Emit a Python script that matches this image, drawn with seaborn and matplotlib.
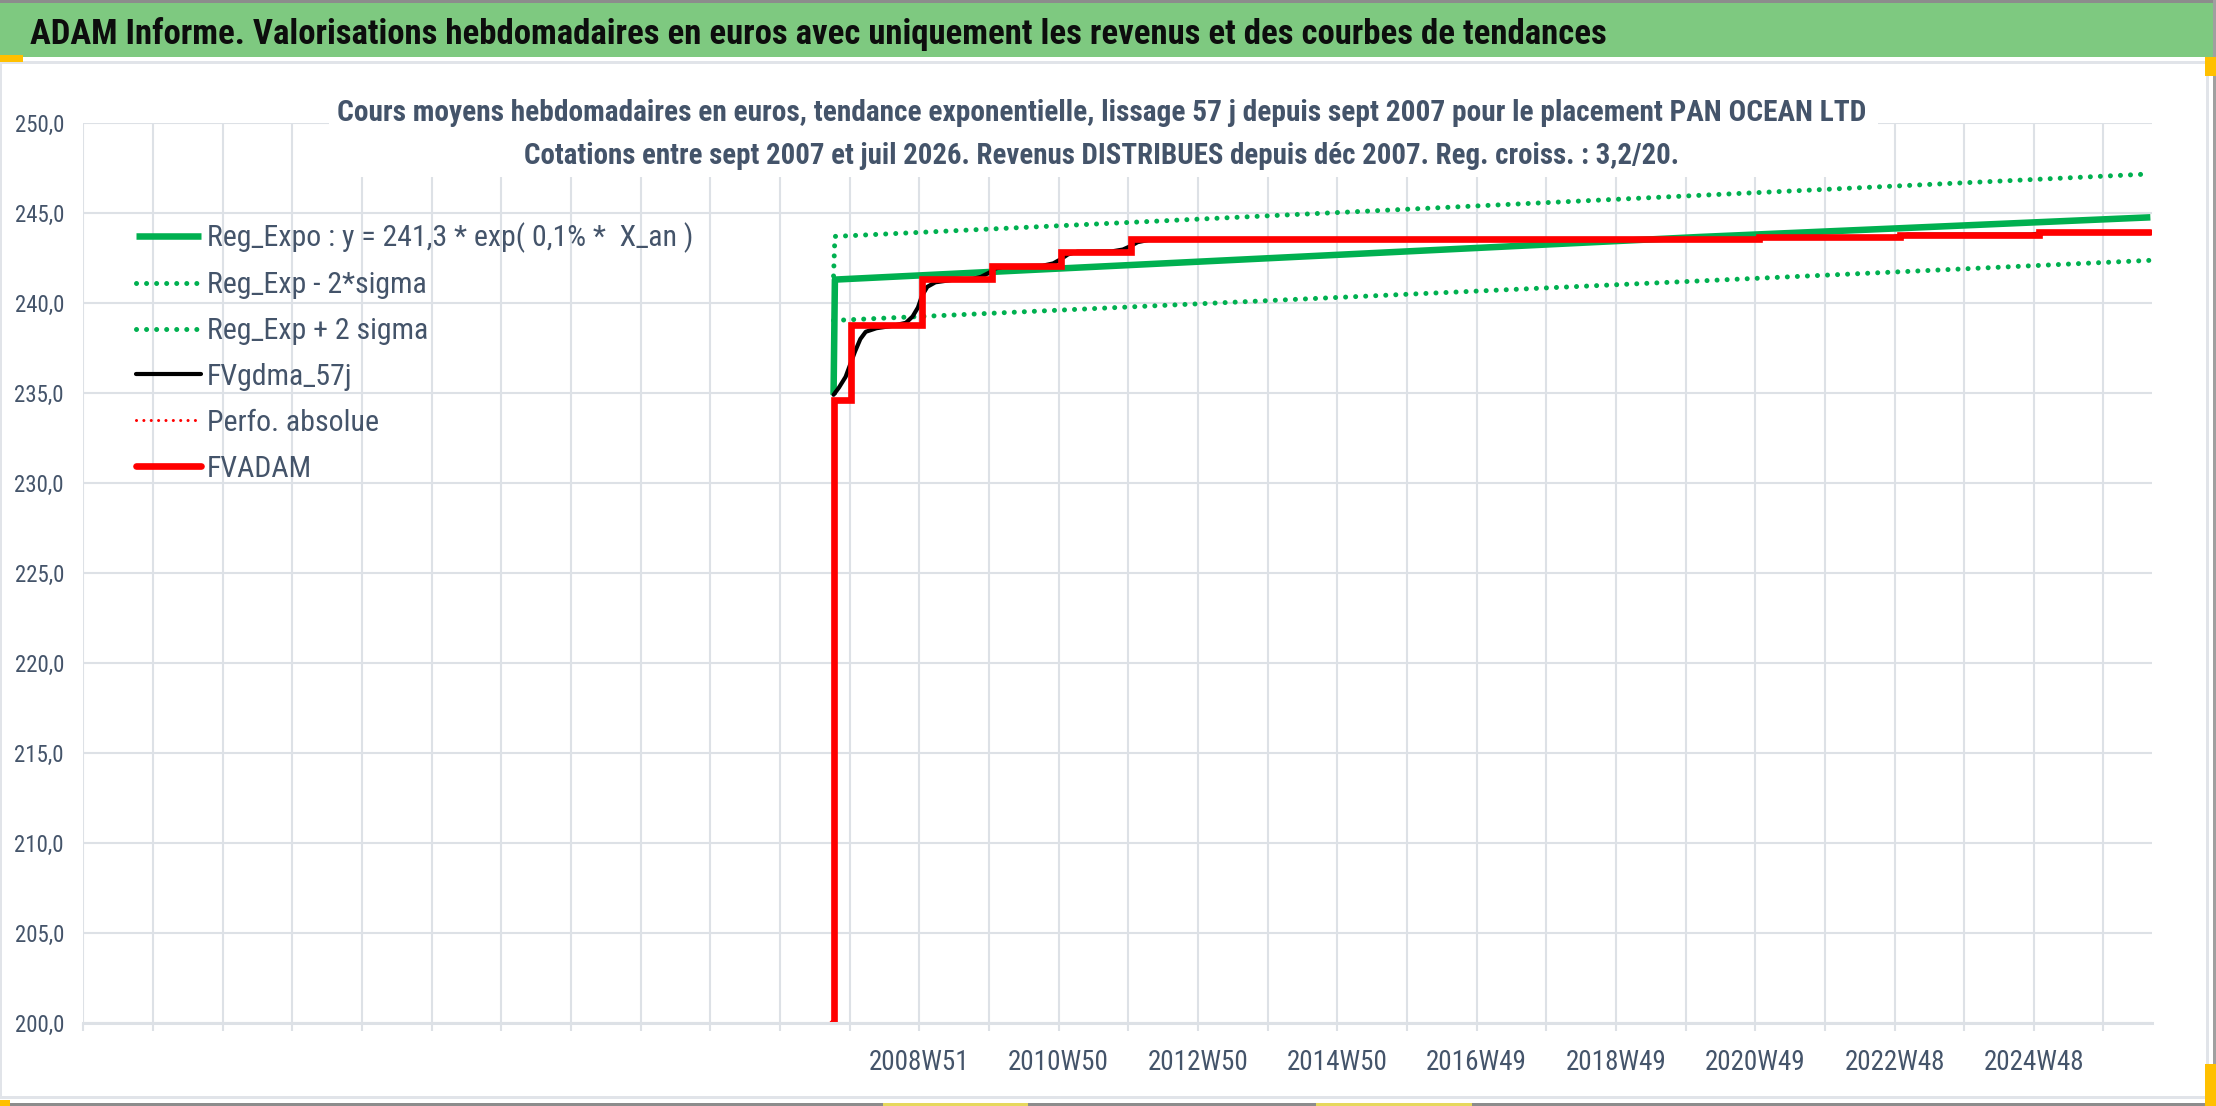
import matplotlib
matplotlib.use("Agg")
import matplotlib.pyplot as plt
import matplotlib.font_manager as fm
from matplotlib.patches import Rectangle
from matplotlib.lines import Line2D
from matplotlib.ticker import FixedLocator, FuncFormatter
import numpy as np
import pandas as pd
import seaborn as sns

# ---------------- data ----------------
axis_start = "1996-12-30"          # first weekly category of the axis
n_categories = 1544                # weekly categories on the axis

tick_labels = ["2008W51", "2010W50", "2012W50", "2014W50", "2016W49",
               "2018W49", "2020W49", "2022W48", "2024W48"]

# weeks are category numbers counted from axis_start
reg_week = [560, 561, 1207, 1543]
reg_value = [234.9, 241.3, 243.67, 244.76]

up_week = [560, 561, 1543]
up_value = [241.5, 243.7, 247.17]

lo_week = [560, 1543]
lo_value = [239.03, 242.37]

black_week = [560, 564, 569, 573, 576, 580, 584, 592, 604, 614,
              619, 623, 626, 630, 636, 650, 664, 670, 676, 681,
              688, 716, 724, 730, 735, 742, 768, 776, 782, 787,
              795, 1245, 1251, 1257, 1350, 1356, 1362, 1454, 1460, 1466,
              1543]
black_value = [234.9, 235.3, 235.9, 236.7, 237.3, 238.0, 238.4, 238.6, 238.73, 238.9,
               239.25, 239.75, 240.4, 240.9, 241.15, 241.3, 241.35, 241.45, 241.68, 241.92,
               242.04, 242.07, 242.2, 242.45, 242.7, 242.85, 242.87, 242.97, 243.17, 243.38,
               243.5, 243.53, 243.59, 243.65, 243.65, 243.72, 243.8, 243.8, 243.86, 243.92,
               243.92]

red_week = [559, 560, 573, 626, 678, 730, 782, 1251, 1356, 1460, 1543]
red_value = [200.0, 234.6, 238.77, 241.35, 242.07, 242.85, 243.53, 243.65, 243.8, 243.92, 243.92]

legend_labels = ["Reg_Expo : y = 241,3 * exp( 0,1% *  X_an )", "Reg_Exp - 2*sigma",
                 "Reg_Exp + 2 sigma", "FVgdma_57j", "Perfo. absolue", "FVADAM"]

band_title = ("ADAM Informe. Valorisations hebdomadaires en euros avec uniquement "
              "les revenus et des courbes de tendances")
chart_title_1 = ("Cours moyens hebdomadaires en euros, tendance exponentielle, lissage 57 j "
                 "depuis sept 2007 pour le placement PAN OCEAN LTD")
chart_title_2 = ("Cotations entre sept 2007 et juil 2026. Revenus DISTRIBUES depuis déc 2007. "
                 "Reg. croiss. : 3,2/20.")

# ---------------- style ----------------
sns.set_theme(style="white")
names = {f.name for f in fm.fontManager.ttflist}
base = next((n for n in ["Liberation Sans Narrow", "Roboto Condensed", "Liberation Sans"]
             if n in names), "DejaVu Sans")
k = 1.0 if ("Narrow" in base or "Condensed" in base) else 0.82
plt.rcParams["font.family"] = [base, "DejaVu Sans"]

W, H = 2216, 1106
TXT = "#44546A"
GRID = "#DDE1E6"
GREEN = "#00B050"

fig = plt.figure(figsize=(W / 100, H / 100), dpi=100)
fig.patch.set_facecolor("white")

def frect(x0, y0, x1, y1, color, z=0):
    # pixel box (top-left origin) -> figure rectangle
    fig.patches.append(Rectangle((x0 / W, 1 - y1 / H), (x1 - x0) / W, (y1 - y0) / H,
                                 transform=fig.transFigure, facecolor=color,
                                 edgecolor="none", zorder=z))

# header band and frame
frect(0, 0, W, 3, "#8C8C8C")
frect(0, 3, W, 57, "#7EC980")
frect(0, 61, W, 64, "#E1E4E9")
frect(0, 1096, W, 1099, "#E1E4E9")
frect(0, 1103, W, 1106, "#8C8C8C")
frect(2206, 62, 2209, 1099, "#E1E4E9")
frect(2213, 0, 2216, 1106, "#A0A0A0")
frect(0, 62, 2, 1099, "#E1E4E9")
# selection handles
frect(0, 55, 23, 62, "#FFC000")
frect(2205, 57, 2216, 76, "#FFC000")
frect(2205, 1064, 2216, 1106, "#FFC000")
frect(0, 1100, 10, 1106, "#FFC000")
frect(883, 1103, 1028, 1106, "#E6D85C")
frect(1316, 1103, 1472, 1106, "#E6D85C")

fig.text(30 / W, 1 - 34 / H, band_title, fontsize=25 * k, fontweight="bold",
         color="#0D0D0D", ha="left", va="center")

# ---------------- axes ----------------
left, right, top, bottom = 83.4, 2151.7, 123, 1023
ax = fig.add_axes([left / W, 1 - bottom / H, (right - left) / W, (bottom - top) / H])
ax.set_facecolor("none")
ax.set_axisbelow(True)

DOT = (0, (0.01, 2.0))
sns.lineplot(x=reg_week, y=reg_value, ax=ax, color=GREEN, linewidth=4.7,
             estimator=None, sort=False, label=legend_labels[0], solid_capstyle="butt")
sns.lineplot(x=up_week, y=up_value, ax=ax, color=GREEN, linewidth=3.6,
             linestyle=DOT, dash_capstyle="round",
             estimator=None, sort=False, label=legend_labels[1])
sns.lineplot(x=lo_week, y=lo_value, ax=ax, color=GREEN, linewidth=3.6,
             linestyle=DOT, dash_capstyle="round",
             estimator=None, sort=False, label=legend_labels[2])
sns.lineplot(x=black_week, y=black_value, ax=ax, color="black", linewidth=3.0,
             estimator=None, sort=False, label=legend_labels[3])
sns.lineplot(x=red_week, y=red_value, ax=ax, color="#FF0000", linewidth=4.8,
             drawstyle="steps-post", estimator=None, sort=False, label=legend_labels[5],
             solid_joinstyle="miter")

# category axis from weekly ISO labels
weeks = pd.date_range(axis_start, periods=n_categories + 1, freq="7D")
iso = weeks.isocalendar()
week_labels = [f"{y}W{w:02d}" for y, w in zip(iso.year, iso.week)]
pos = {lab: i for i, lab in enumerate(week_labels)}
ticks = [pos[t] for t in tick_labels]

ax.set_xlim(0, n_categories)
ax.set_ylim(200, 250)
ax.xaxis.set_major_locator(FixedLocator(ticks))
ax.set_xticklabels(tick_labels)
ax.xaxis.set_minor_locator(FixedLocator(np.arange(0, n_categories, 52)))
ax.yaxis.set_major_locator(FixedLocator(np.arange(200, 251, 5)))
ax.yaxis.set_major_formatter(FuncFormatter(lambda v, p: f"{v:.1f}".replace(".", ",")))

ax.grid(True, which="both", axis="x", color=GRID, linewidth=1.5)
ax.grid(True, which="major", axis="y", color=GRID, linewidth=1.5)
for s in ["left", "right", "top"]:
    ax.spines[s].set_visible(False)
ax.spines["bottom"].set_color(GRID)
ax.spines["bottom"].set_linewidth(2.2)
ax.tick_params(axis="x", which="both", length=6, width=1.5, color=GRID, bottom=True,
               direction="out", pad=13, labelsize=19.5 * k, labelcolor=TXT)
ax.tick_params(axis="y", which="both", length=0, pad=14, labelsize=16.5 * k, labelcolor=TXT)
ax.set_xlabel("")
ax.set_ylabel("")

# white title box hiding the grid under the chart title
ax.add_patch(Rectangle((329 / W, 1 - 177 / H), (1878 - 329) / W, 92 / H,
                       transform=fig.transFigure, facecolor="white", edgecolor="none",
                       zorder=1, clip_on=False))
fig.text(1102 / W, 1 - 113 / H, chart_title_1, fontsize=21.2 * k, fontweight="bold",
         color=TXT, ha="center", va="center")
fig.text(1102 / W, 1 - 156 / H, chart_title_2, fontsize=20.8 * k, fontweight="bold",
         color=TXT, ha="center", va="center")

# legend
handles, labels = ax.get_legend_handles_labels()
hmap = dict(zip(labels, handles))
perfo = Line2D([], [], color="#FF0000", linewidth=2.2, linestyle=(0, (0.01, 2.4)),
               dash_capstyle="round")
hmap[legend_labels[4]] = perfo
leg = ax.legend([hmap[l] for l in legend_labels], legend_labels,
                loc="upper left", bbox_to_anchor=(136 / W, 1 - 222.5 / H),
                bbox_transform=fig.transFigure, frameon=False, fontsize=21.5 * k,
                handlelength=2.17, handletextpad=0.2, labelspacing=0.6,
                borderpad=0, borderaxespad=0)
for t in leg.get_texts():
    t.set_color(TXT)

fig.savefig("out.png", dpi=100, facecolor="white")
